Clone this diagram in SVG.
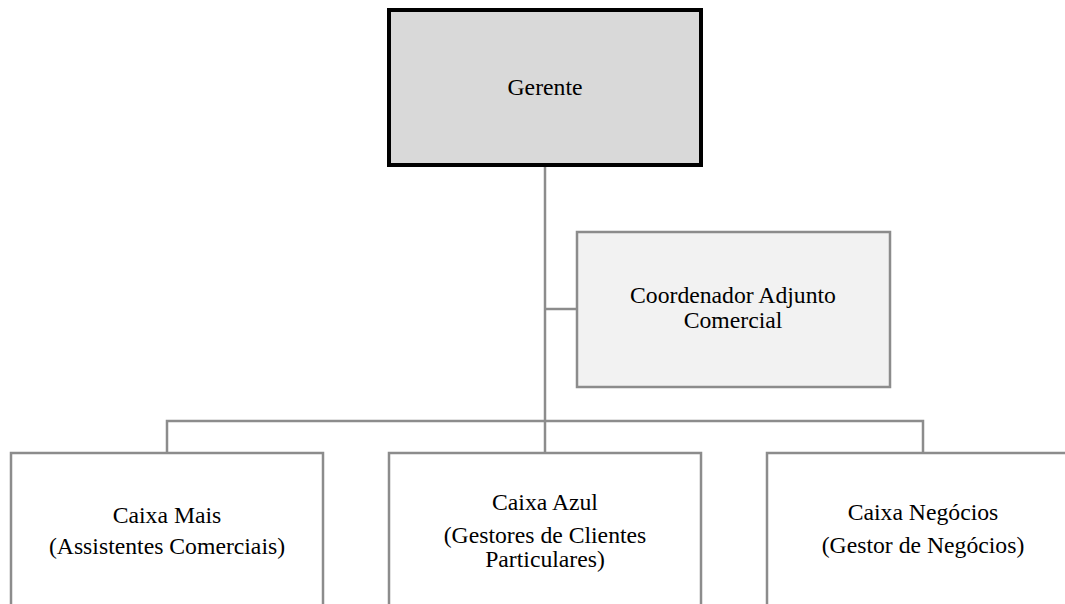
<svg xmlns="http://www.w3.org/2000/svg" width="1065" height="604" viewBox="0 0 1065 604">
<style>
  .t { font-family: "Liberation Serif", "Times New Roman", serif; font-size: 23.7px; fill: #000000; text-anchor: middle; }
  .box { fill: #ffffff; stroke: #8c8c8c; stroke-width: 2.5; }
  .conn { fill: none; stroke: #8c8c8c; stroke-width: 2.5; }
</style>
<rect width="1065" height="604" fill="#ffffff"/>
<g id="connectors">
  <path class="conn" d="M545 166 V421"/>
  <path class="conn" d="M545 309 H577"/>
  <path class="conn" d="M167 453 V421 H923 V453"/>
  <path class="conn" d="M545 421 V453"/>
</g>
<g id="gerente">
  <rect x="389" y="10" width="312" height="155" fill="#d9d9d9" stroke="#000000" stroke-width="4"/>
  <text class="t" x="545" y="95">Gerente</text>
</g>
<g id="coordenador">
  <rect class="box" x="577" y="232" width="313" height="155" style="fill:#f2f2f2"/>
  <text class="t" x="733" y="303">Coordenador Adjunto</text>
  <text class="t" x="733" y="328">Comercial</text>
</g>
<g id="caixa-mais">
  <rect class="box" x="11" y="453" width="312" height="170"/>
  <text class="t" x="167" y="523">Caixa Mais</text>
  <text class="t" x="167" y="554">(Assistentes Comerciais)</text>
</g>
<g id="caixa-azul">
  <rect class="box" x="389" y="453" width="312" height="170"/>
  <text class="t" x="545" y="510">Caixa Azul</text>
  <text class="t" x="545" y="543">(Gestores de Clientes</text>
  <text class="t" x="545" y="567">Particulares)</text>
</g>
<g id="caixa-negocios">
  <rect class="box" x="767" y="453" width="312" height="170"/>
  <text class="t" x="923" y="520">Caixa Negócios</text>
  <text class="t" x="923" y="553">(Gestor de Negócios)</text>
</g>
</svg>
